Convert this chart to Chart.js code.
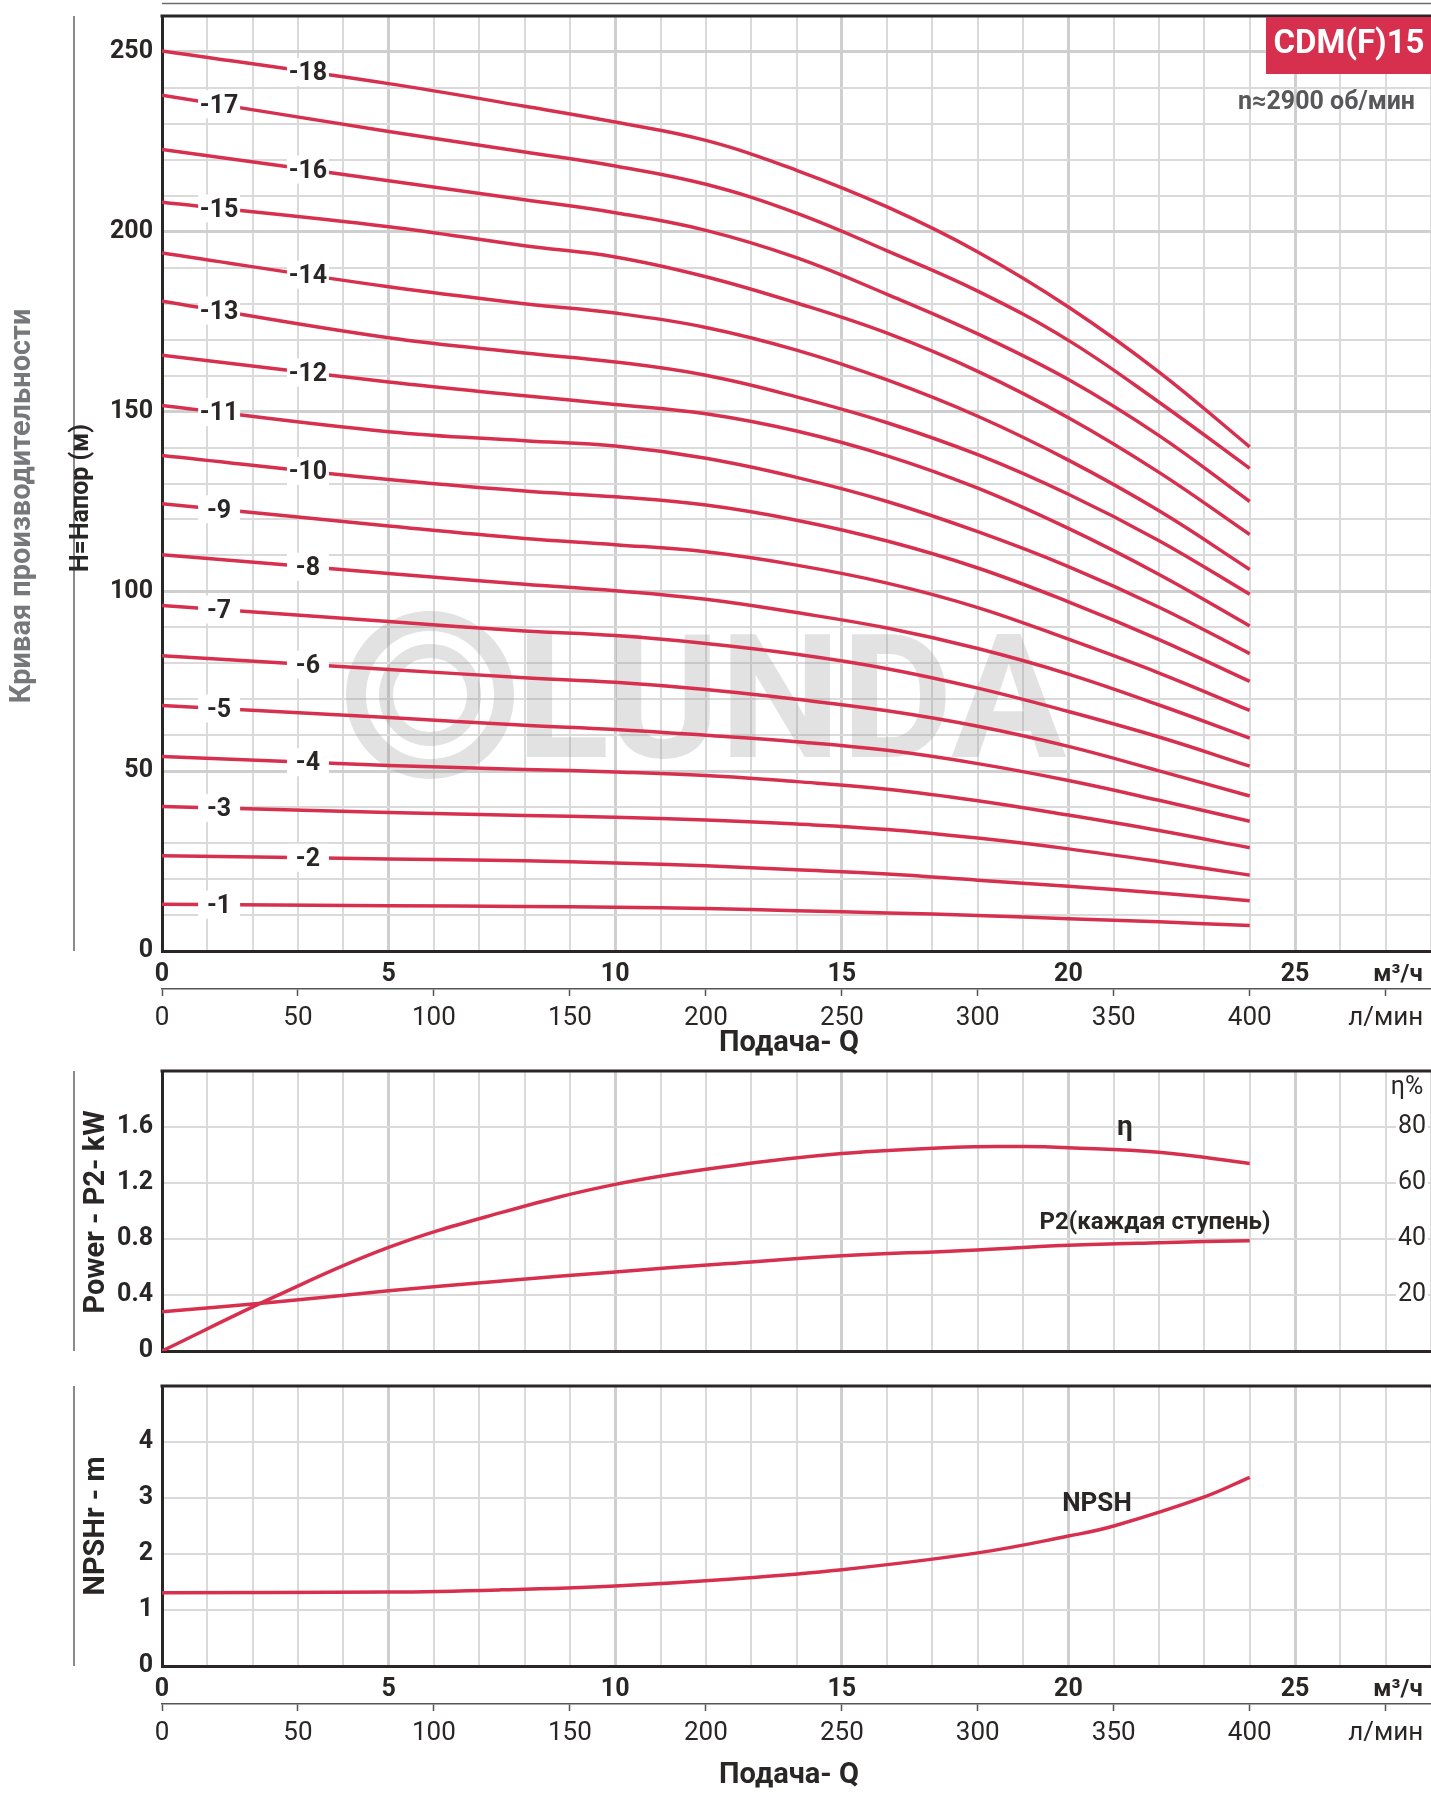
<!DOCTYPE html>
<html lang="ru">
<head>
<meta charset="utf-8">
<title>CDM(F)15</title>
<script src="https://cdn.jsdelivr.net/npm/chart.js@4.4.1/dist/chart.umd.min.js"></script>
<style>
  html, body { margin: 0; padding: 0; background: #fff; }
  #page { position: relative; width: 1431px; height: 1793px; overflow: hidden; }
  #page canvas { position: absolute; left: 0; }
</style>
</head>
<body>
<div id="page">
  <canvas id="head-chart" width="1431" height="1060" style="top:0"></canvas>
  <canvas id="power-chart" width="1431" height="320" style="top:1060px"></canvas>
  <canvas id="npsh-chart" width="1431" height="413" style="top:1380px"></canvas>
</div>
<script>
// Q samples (m3/h) for the H curves, one array per stage count
const Q_H = [0, 5, 8, 10, 12, 14, 16, 18, 20, 22, 24];
const H1  = [13.0, 12.6, 12.4, 12.2, 11.8, 11.2, 10.6, 9.9, 9.0, 8.1, 7.1];
const H2  = [26.5, 25.6, 25.1, 24.5, 23.7, 22.6, 21.4, 19.7, 18.0, 16.1, 14.0];
const H3  = [40.2, 38.5, 37.7, 37.2, 36.4, 35.3, 33.8, 31.4, 28.4, 24.9, 21.1];
const H4  = [54.1, 51.6, 50.5, 49.8, 48.8, 47.1, 45.0, 41.8, 37.8, 33.5, 28.7];
const H5  = [68.3, 64.9, 62.8, 61.6, 60.0, 58.2, 55.8, 52.1, 47.4, 41.9, 36.1];
const H6  = [82.1, 78.3, 76.0, 74.7, 72.7, 70.0, 66.8, 62.5, 56.9, 50.1, 43.1];
const H7  = [96.1, 91.6, 89.0, 87.7, 85.5, 82.5, 78.5, 73.1, 66.6, 59.5, 51.4];
const H8  = [110.2, 105.0, 102.0, 100.2, 97.8, 94.1, 89.8, 84.1, 77.0, 68.4, 59.2];
const H9  = [124.4, 118.2, 114.7, 113.0, 111.0, 107.3, 102.3, 95.5, 86.7, 77.3, 66.9];
const H10 = [137.8, 131.1, 127.9, 126.3, 124.0, 119.8, 114.0, 106.5, 97.1, 86.6, 75.0];
const H11 = [151.7, 144.4, 141.9, 140.4, 137.0, 131.7, 125.0, 116.6, 106.9, 95.6, 82.7];
const H12 = [165.7, 158.2, 154.4, 152.0, 149.4, 144.6, 137.7, 128.7, 117.5, 104.7, 90.4];
const H13 = [180.7, 170.5, 166.3, 163.8, 160.1, 154.1, 146.9, 138.0, 127.0, 114.1, 99.2];
const H14 = [194.1, 184.7, 180.0, 177.4, 173.4, 167.1, 158.8, 148.7, 136.5, 122.4, 106.1];
const H15 = [208.2, 201.4, 196.1, 193.0, 187.5, 180.2, 171.8, 161.2, 148.3, 133.1, 115.8];
const H16 = [222.9, 214.2, 208.9, 205.3, 200.4, 192.8, 182.6, 171.6, 158.9, 143.3, 125.0];
const H17 = [238.0, 227.9, 222.2, 218.3, 213.2, 205.2, 194.7, 183.5, 169.8, 152.6, 134.2];
const H18 = [250.3, 241.2, 234.9, 230.5, 225.4, 217.1, 206.9, 194.4, 179.1, 161.0, 140.2];
const STAGES = [H1, H2, H3, H4, H5, H6, H7, H8, H9, H10, H11, H12, H13, H14, H15, H16, H17, H18];

const Q_P2 = [0, 2.5, 5, 7.5, 10, 12.5, 15, 17.5, 20, 22, 24];
const P2   = [0.28, 0.35, 0.43, 0.50, 0.565, 0.625, 0.68, 0.715, 0.755, 0.774, 0.788];
const Q_ETA = [0, 2.5, 5, 7.5, 10, 12.5, 15, 17.5, 19, 20, 22, 24];
const ETA   = [0, 19.5, 37, 49.5, 59.5, 66, 70.5, 72.8, 73, 72.6, 71, 67];
const Q_NPSH = [0, 5, 7.5, 10, 12.5, 15, 18, 20, 21, 23, 24];
const NPSH   = [1.31, 1.32, 1.36, 1.43, 1.55, 1.72, 2.02, 2.32, 2.5, 3.02, 3.37];

// tick labels
const Q_TICKS = [0, 5, 10, 15, 20, 25];
const LPM_TICKS = [0, 50, 100, 150, 200, 250, 300, 350, 400];
const LPM_UNIT_AT = 450;
const H_TICKS = [0, 50, 100, 150, 200, 250];
const P_TICKS = [0, 0.4, 0.8, 1.2, 1.6];
const ETA_TICKS = [20, 40, 60, 80];
const NPSH_TICKS = [0, 1, 2, 3, 4];

const Q_MAX = 28;
const LPM_MAX = Q_MAX * 1000 / 60;

const RED = '#d7304f';
const INK = '#2b2626';
const GRID = '#dadada';
const GRID_MAJOR = '#cfcfcf';
const FONT = 'Roboto, "Open Sans", sans-serif';

const pts = (xs, ys) => xs.map((x, i) => ({ x, y: ys[i] }));
const hasTick = (list, v) => list.some(t => Math.abs(t - v) < 1e-6);

function valueAt(xs, ys, q) {
  for (let i = 1; i < xs.length; i++) {
    if (q <= xs[i]) {
      const t = (q - xs[i - 1]) / (xs[i] - xs[i - 1]);
      return ys[i - 1] + t * (ys[i] - ys[i - 1]);
    }
  }
  return ys[ys.length - 1];
}

function text(ctx, str, x, y, font, color, align = 'center', rot = 0) {
  ctx.save();
  ctx.translate(x, y);
  if (rot) ctx.rotate(rot);
  ctx.font = font;
  ctx.fillStyle = color;
  ctx.textAlign = align;
  ctx.textBaseline = 'middle';
  ctx.fillText(str, 0, 0);
  ctx.restore();
}

function line(ctx, x1, y1, x2, y2, color, w) {
  ctx.save();
  ctx.strokeStyle = color;
  ctx.lineWidth = w;
  ctx.beginPath();
  ctx.moveTo(x1, y1);
  ctx.lineTo(x2, y2);
  ctx.stroke();
  ctx.restore();
}

// fixed box size, and no automatic overhang padding from tick labels
function fixBox(size, horizontal) {
  return s => {
    if (horizontal) s.height = size; else s.width = size;
    s.paddingTop = s.paddingBottom = s.paddingLeft = s.paddingRight = 0;
  };
}

function baseOptions(padding) {
  return {
    responsive: false,
    animation: false,
    devicePixelRatio: 1,
    layout: { padding },
    plugins: { legend: { display: false }, tooltip: { enabled: false } },
    elements: {
      point: { radius: 0 },
      line: { borderColor: RED, borderWidth: 3.5, tension: 0.4, fill: false }
    }
  };
}

function qScale(showLabels) {
  return {
    type: 'linear', position: 'bottom', min: 0, max: Q_MAX, weight: 0,
    afterFit: fixBox(showLabels ? 38 : 0, true),
    grid: {
      drawTicks: false,
      color: c => (c.tick && c.tick.value % 5 === 0) ? GRID_MAJOR : GRID,
      lineWidth: c => (c.tick && c.tick.value % 5 === 0) ? 3 : 2
    },
    border: { color: INK, width: 3 },
    ticks: {
      display: showLabels, stepSize: 1, autoSkip: false, maxTicksLimit: 1000, maxRotation: 0,
      padding: 9, color: INK, font: { family: FONT, size: 25, weight: 'bold' },
      callback: v => Q_TICKS.includes(v) ? v : ''
    }
  };
}

function lpmScale(boxHeight) {
  return {
    type: 'linear', position: 'bottom', min: 0, max: LPM_MAX, weight: 1,
    afterFit: fixBox(boxHeight, true),
    grid: { drawOnChartArea: false, drawTicks: true, tickLength: 7, tickWidth: 1.5, tickColor: '#555' },
    border: { color: '#555', width: 1.5 },
    ticks: {
      stepSize: 50, includeBounds: false, autoSkip: false, maxRotation: 0,
      padding: 7, color: INK, font: { family: FONT, size: 26 },
      callback: v => v === LPM_UNIT_AT ? 'л/мин' : (LPM_TICKS.includes(v) ? v : '')
    }
  };
}

function valueScale(min, max, step, labels, majorEvery) {
  return {
    type: 'linear', position: 'left', min, max,
    afterFit: fixBox(162, false),
    grid: {
      drawTicks: false,
      color: c => (majorEvery && c.tick && c.tick.value % majorEvery === 0) ? GRID_MAJOR : GRID,
      lineWidth: c => (majorEvery && c.tick && c.tick.value % majorEvery === 0) ? 3 : 2
    },
    border: { color: INK, width: 3 },
    ticks: {
      stepSize: step, autoSkip: false, maxTicksLimit: 1000, padding: 9,
      color: INK, font: { family: FONT, size: 25, weight: 'bold' },
      callback: v => hasTick(labels, v) ? v : ''
    }
  };
}

// ---- H curves ----
const headDecor = {
  id: 'headDecor',
  beforeDatasetsDraw(chart) {
    // LUNDA watermark
    const ctx = chart.ctx;
    ctx.save();
    ctx.strokeStyle = 'rgba(150,150,150,0.28)';
    ctx.fillStyle = 'rgba(150,150,150,0.28)';
    ctx.lineWidth = 20;
    ctx.beginPath(); ctx.arc(430, 695, 74, 0, Math.PI * 2); ctx.stroke();
    ctx.lineWidth = 14;
    ctx.beginPath(); ctx.arc(430, 695, 44, 0, Math.PI * 2); ctx.stroke();
    ctx.font = `bold 172px ${FONT}`;
    ctx.textBaseline = 'alphabetic';
    ctx.fillText('LUNDA', 516, 757);
    ctx.restore();
  },
  afterDatasetsDraw(chart) {
    const ctx = chart.ctx;
    const { x, y } = chart.scales;
    STAGES.forEach((h, i) => {
      const n = i + 1;
      const q = n % 2 ? 1.26 : 3.22;
      const px = x.getPixelForValue(q);
      const py = y.getPixelForValue(valueAt(Q_H, h, q));
      ctx.fillStyle = '#fff';
      ctx.fillRect(px - 21, py - 14, 42, 28);
      text(ctx, '-' + n, px, py + 2, `bold 25px ${FONT}`, INK);
    });
  },
  afterDraw(chart) {
    const ctx = chart.ctx;
    const a = chart.chartArea;
    line(ctx, a.left, 3.5, 1431, 3.5, '#6b6b6b', 1.5);
    line(ctx, a.left - 1.5, a.top, 1431, a.top, INK, 3);
    line(ctx, 74, a.top, 74, a.bottom, '#8a8a8a', 2);
    text(ctx, 'Кривая производительности', 23, 506, `bold 29px ${FONT}`, '#77787b', 'center', -Math.PI / 2);
    text(ctx, 'H=Напор (м)', 82, 498, `bold 25px ${FONT}`, INK, 'center', -Math.PI / 2);
    ctx.fillStyle = RED;
    ctx.fillRect(1266, a.top + 1, 165, 57);
    text(ctx, 'CDM(F)15', 1349, a.top + 29, `bold 33px ${FONT}`, '#fff');
    text(ctx, 'n≈2900 об/мин', 1415, 103, `bold 25px ${FONT}`, '#58585a', 'right');
    text(ctx, 'м³/ч', 1398, a.bottom + 24, `bold 24px ${FONT}`, INK);
    text(ctx, 'Подача- Q', 789, 1044, `bold 29px ${FONT}`, INK);
  }
};

new Chart(document.getElementById('head-chart'), {
  type: 'line',
  data: {
    datasets: STAGES.map((h, i) => ({ label: '-' + (i + 1), data: pts(Q_H, h), xAxisID: 'x', yAxisID: 'y' }))
  },
  options: {
    ...baseOptions({ left: 0, top: 16, right: 0, bottom: 0 }),
    scales: {
      x: qScale(true),
      x2: lpmScale(71),
      y: valueScale(0, 260, 10, H_TICKS, 50)
    }
  },
  plugins: [headDecor]
});

// ---- power / efficiency ----
const powerDecor = {
  id: 'powerDecor',
  afterDraw(chart) {
    const ctx = chart.ctx;
    const a = chart.chartArea;
    line(ctx, a.left - 1.5, a.top, 1431, a.top, INK, 3);
    line(ctx, 74, a.top, 74, a.bottom, '#8a8a8a', 2);
    text(ctx, 'Power - P2- kW', 97, 1212 - 1060, `bold 29px ${FONT}`, INK, 'center', -Math.PI / 2);
    text(ctx, 'η%', 1407, 1088 - 1060, `25px ${FONT}`, INK);
    text(ctx, 'η', 1125, 1128 - 1060, `bold 28px ${FONT}`, INK);
    text(ctx, 'P2(каждая ступень)', 1155, 1223 - 1060, `bold 24px ${FONT}`, INK);
  }
};

new Chart(document.getElementById('power-chart'), {
  type: 'line',
  data: {
    datasets: [
      { label: 'P2', data: pts(Q_P2, P2), xAxisID: 'x', yAxisID: 'y' },
      { label: 'η', data: pts(Q_ETA, ETA), xAxisID: 'x', yAxisID: 'y2' }
    ]
  },
  options: {
    ...baseOptions({ left: 0, top: 11, right: 0, bottom: 29 }),
    scales: {
      x: qScale(false),
      y: valueScale(0, 2, 0.4, P_TICKS, 0),
      y2: {
        type: 'linear', position: 'right', min: 0, max: 100,
        afterFit: fixBox(0, false),
        afterBuildTicks: s => { s.ticks = s.ticks.filter(t => ETA_TICKS.includes(t.value)); },
        grid: { display: false },
        border: { display: false },
        ticks: {
          stepSize: 20, mirror: true, padding: -5, color: INK,
          font: { family: FONT, size: 25 },
          showLabelBackdrop: true, backdropColor: '#fff', backdropPadding: 2
        }
      }
    }
  },
  plugins: [powerDecor]
});

// ---- NPSH ----
const npshDecor = {
  id: 'npshDecor',
  afterDraw(chart) {
    const ctx = chart.ctx;
    const a = chart.chartArea;
    line(ctx, a.left - 1.5, a.top, 1431, a.top, INK, 3);
    line(ctx, 74, a.top, 74, a.bottom, '#8a8a8a', 2);
    text(ctx, 'NPSHr - m', 97, 1526 - 1380, `bold 29px ${FONT}`, INK, 'center', -Math.PI / 2);
    text(ctx, 'NPSH', 1097, 1504 - 1380, `bold 26px ${FONT}`, INK);
    text(ctx, 'м³/ч', 1398, a.bottom + 24, `bold 24px ${FONT}`, INK);
    text(ctx, 'Подача- Q', 789, 1776 - 1380, `bold 29px ${FONT}`, INK);
  }
};

new Chart(document.getElementById('npsh-chart'), {
  type: 'line',
  data: {
    datasets: [{ label: 'NPSH', data: pts(Q_NPSH, NPSH), xAxisID: 'x', yAxisID: 'y' }]
  },
  options: {
    ...baseOptions({ left: 0, top: 6, right: 0, bottom: 0 }),
    scales: {
      x: qScale(true),
      x2: lpmScale(89),
      y: valueScale(0, 5, 1, NPSH_TICKS, 0)
    }
  },
  plugins: [npshDecor]
});
</script>
</body>
</html>
